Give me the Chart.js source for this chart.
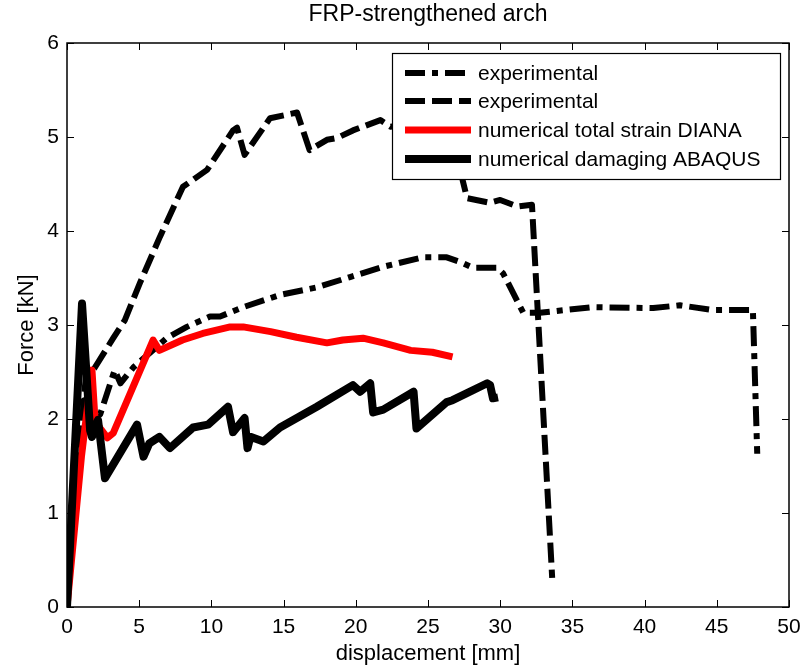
<!DOCTYPE html>
<html>
<head>
<meta charset="utf-8">
<script src="https://cdn.jsdelivr.net/npm/chart.js@4"></script>
<style>
  html, body { margin: 0; padding: 0; background: #fff; }
  #wrap { width: 803px; height: 668px; }
</style>
</head>
<body>
<div id="wrap"><canvas id="chart" width="803" height="668"></canvas></div>
<script>
// experimental (dash-dot)
const dashDotX = [0, 1.2, 2.3, 3.3, 3.7, 4.6, 6.9, 8.3, 9.9, 10.6, 12.2, 14.75, 17.3, 19.6, 21.9, 24.65, 26.3, 27.4, 28.1, 29.8, 30.2, 31.6, 32.75, 36.4, 40.6, 42.45, 44.7, 47.5, 47.8];
const dashDotY = [0, 2.2, 2.05, 2.52, 2.38, 2.55, 2.86, 2.98, 3.09, 3.09, 3.19, 3.32, 3.40, 3.51, 3.62, 3.72, 3.72, 3.66, 3.61, 3.61, 3.55, 3.13, 3.13, 3.19, 3.18, 3.21, 3.16, 3.16, 1.63];

// experimental (dashed)
const dashedX = [0, 1.3, 1.9, 3.2, 4.0, 5.06, 6.44, 8.03, 9.7, 11.5, 11.77, 12.3, 14.06, 15.93, 16.8, 18.0, 18.7, 19.8, 21.7, 22.4, 24.5, 27.2, 27.4, 27.7, 29.3, 30.0, 31.2, 32.2, 33.6];
const dashedY = [0, 2.45, 2.54, 2.86, 3.05, 3.45, 3.94, 4.47, 4.65, 5.07, 5.10, 4.81, 5.20, 5.26, 4.86, 4.97, 4.99, 5.07, 5.18, 5.11, 5.15, 5.0, 4.54, 4.35, 4.30, 4.33, 4.26, 4.28, 0.31];

// numerical total strain DIANA
const dianaX = [0, 1.0, 1.73, 1.94, 2.3, 2.8, 3.2, 5.96, 6.4, 8.0, 9.4, 11.3, 12.2, 14.1, 15.9, 18.0, 19.1, 20.5, 21.9, 23.8, 25.3, 26.7];
const dianaY = [0, 1.6, 2.52, 1.99, 1.9, 1.8, 1.85, 2.84, 2.73, 2.84, 2.91, 2.98, 2.98, 2.93, 2.87, 2.81, 2.84, 2.86, 2.81, 2.73, 2.71, 2.66];

// numerical damaging ABAQUS
const abaqusX = [0, 1.04, 1.6, 1.73, 2.15, 2.63, 4.85, 5.3, 5.7, 6.4, 7.13, 8.73, 9.76, 11.15, 11.5, 12.3, 12.5, 12.7, 13.6, 14.75, 17.3, 19.8, 20.3, 21.0, 21.2, 21.9, 24.0, 24.2, 26.3, 26.7, 29.1, 29.3, 29.5, 29.85];
const abaqusY = [0, 3.23, 1.88, 1.81, 1.99, 1.37, 1.94, 1.6, 1.74, 1.81, 1.69, 1.91, 1.94, 2.13, 1.86, 2.01, 1.69, 1.81, 1.76, 1.91, 2.13, 2.36, 2.29, 2.38, 2.07, 2.10, 2.29, 1.90, 2.18, 2.20, 2.38, 2.36, 2.22, 2.23];

const seriesLabels = ['experimental', 'experimental', 'numerical total strain DIANA', 'numerical damaging ABAQUS'];
const xTicks = [0, 5, 10, 15, 20, 25, 30, 35, 40, 45, 50];
const yTicks = [0, 1, 2, 3, 4, 5, 6];

function pts(xs, ys) {
  return xs.map((x, i) => ({ x: x, y: ys[i] }));
}

const FONT = '"Liberation Sans", Arial, Helvetica, sans-serif';
const dashDot = [20, 7, 6, 7];
const dashed = [20, 7];

const styles = [
  { color: '#000', width: 6, dash: dashDot },
  { color: '#000', width: 6, dash: dashed },
  { color: '#ff0000', width: 7, dash: [] },
  { color: '#000', width: 8, dash: [] }
];

// axes box, inward ticks and legend like the matlab figure
const boxPlugin = {
  id: 'boxPlugin',
  afterDraw(chart) {
    const ctx = chart.ctx;
    const a = chart.chartArea;
    const xs = chart.scales.x, ys = chart.scales.y;
    ctx.save();
    ctx.strokeStyle = '#000';
    ctx.lineWidth = 1;
    ctx.beginPath();
    xTicks.forEach(v => {
      const px = Math.round(xs.getPixelForValue(v)) + 0.5;
      ctx.moveTo(px, a.bottom); ctx.lineTo(px, a.bottom - 7);
      ctx.moveTo(px, a.top); ctx.lineTo(px, a.top + 7);
    });
    yTicks.forEach(v => {
      const py = Math.round(ys.getPixelForValue(v)) + 0.5;
      ctx.moveTo(a.left, py); ctx.lineTo(a.left + 7, py);
      ctx.moveTo(a.right, py); ctx.lineTo(a.right - 7, py);
    });
    ctx.stroke();
    ctx.lineWidth = 1.5;
    ctx.strokeRect(a.left, a.top, a.right - a.left, a.bottom - a.top);

    // legend
    const lx = 392, ly = 53, lw = 388, lh = 126;
    ctx.fillStyle = '#fff';
    ctx.fillRect(lx, ly, lw, lh);
    ctx.lineWidth = 1.2;
    ctx.strokeRect(lx + 0.5, ly + 0.5, lw, lh);
    const rows = [73, 101, 130, 159];
    ctx.font = '21px ' + FONT;
    ctx.textBaseline = 'middle';
    ctx.textAlign = 'left';
    seriesLabels.forEach((lab, i) => {
      const s = styles[i];
      ctx.strokeStyle = s.color;
      ctx.lineWidth = s.width;
      ctx.lineCap = 'butt';
      ctx.setLineDash(s.dash);
      ctx.beginPath();
      ctx.moveTo(405, rows[i]);
      ctx.lineTo(471, rows[i]);
      ctx.stroke();
      ctx.setLineDash([]);
      ctx.fillStyle = '#000';
      ctx.fillText(lab, 478, rows[i] + 1);
    });
    ctx.restore();
  }
};

const allData = [pts(dashDotX, dashDotY), pts(dashedX, dashedY), pts(dianaX, dianaY), pts(abaqusX, abaqusY)];

new Chart(document.getElementById('chart').getContext('2d'), {
  type: 'line',
  data: {
    datasets: allData.map((d, i) => ({
      label: seriesLabels[i],
      data: d,
      borderColor: styles[i].color,
      borderWidth: styles[i].width,
      borderDash: styles[i].dash,
      borderCapStyle: 'butt',
      borderJoinStyle: 'round',
      pointRadius: 0,
      tension: 0,
      fill: false,
      order: 3 - i
    }))
  },
  options: {
    responsive: false,
    animation: false,
    events: [],
    layout: { padding: 0 },
    plugins: {
      legend: { display: false },
      tooltip: { enabled: false },
      title: {
        display: true,
        fullSize: false,
        text: 'FRP-strengthened arch',
        color: '#000',
        font: { family: FONT, size: 23, weight: 'normal' },
        padding: { top: 1, bottom: 14.4 }
      }
    },
    scales: {
      x: {
        type: 'linear',
        min: 0, max: 50,
        afterFit(s) { s.height = 61; s.paddingLeft = 0; s.paddingRight = 14; },
        afterBuildTicks(s) { s.ticks = xTicks.map(v => ({ value: v })); },
        grid: { display: false, drawTicks: false },
        border: { display: false },
        ticks: { color: '#000', padding: 8, maxRotation: 0, font: { family: FONT, size: 21 } },
        title: {
          display: true, text: 'displacement [mm]', color: '#000',
          font: { family: FONT, size: 22 }, padding: { top: 0, bottom: 1 }
        }
      },
      y: {
        type: 'linear',
        min: 0, max: 6,
        afterFit(s) { s.width = 67; },
        afterBuildTicks(s) { s.ticks = yTicks.map(v => ({ value: v })); },
        grid: { display: false, drawTicks: false },
        border: { display: false },
        ticks: { color: '#000', padding: 8, font: { family: FONT, size: 21 } },
        title: {
          display: true, text: 'Force [kN]', color: '#000',
          font: { family: FONT, size: 22 }, padding: { top: 14, bottom: 0 }
        }
      }
    }
  },
  plugins: [boxPlugin]
});
</script>
</body>
</html>
